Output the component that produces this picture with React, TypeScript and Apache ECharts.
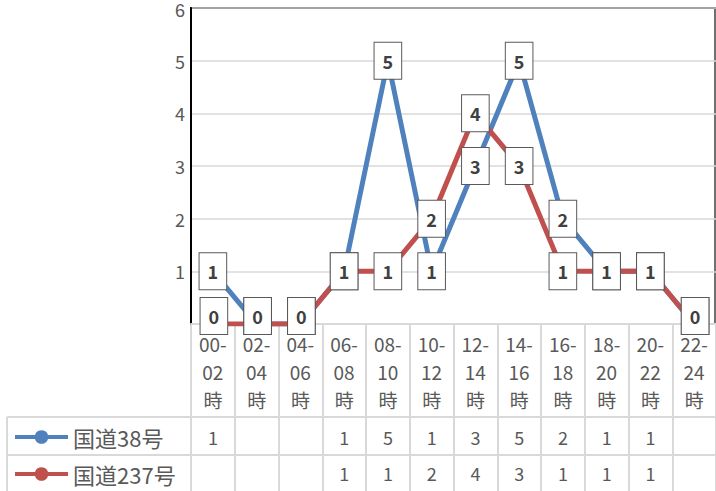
import React, { useEffect, useRef } from 'react';
import * as echarts from 'echarts';

const categories = ['00-02時', '02-04時', '04-06時', '06-08時', '08-10時', '10-12時', '12-14時', '14-16時', '16-18時', '18-20時', '20-22時', '22-24時'];
const route38 = [1, 0, 0, 1, 5, 1, 3, 5, 2, 1, 1, 0];
const route237 = [0, 0, 0, 1, 1, 2, 4, 3, 1, 1, 1, 0];
const seriesNames = ['国道38号', '国道237号'];
const seriesColors = ['#4F81BD', '#C0504D'];
const yMin = 0;
const yMax = 6;
const yInterval = 1;

const FONT = '"Noto Sans CJK JP", "Noto Sans", sans-serif';
const GRAY_TEXT = '#595959';
const TABLE_LINE = '#d9d9d9';

function makeSeries(name: string, values: number[], color: string) {
  return {
    name,
    type: 'line',
    xAxisIndex: 0,
    yAxisIndex: 0,
    data: values.map((v) => (v === 0 ? { value: v, label: { offset: [1, -8] } } : v)),
    symbol: 'circle',
    symbolSize: 9,
    showSymbol: true,
    lineStyle: { color, width: 5 },
    itemStyle: { color },
    emphasis: { disabled: true },
    label: {
      show: true,
      position: 'inside',
      fontFamily: FONT,
      fontSize: 18,
      fontWeight: 'bold',
      color: '#404040',
      backgroundColor: '#ffffff',
      borderColor: '#595959',
      borderWidth: 1,
      padding: [9, 8],
      lineHeight: 18,
    },
  };
}

function tableAxis(values: number[], offset: number) {
  return {
    type: 'category',
    gridIndex: 0,
    position: 'bottom',
    offset,
    data: categories,
    axisLine: { show: false },
    axisTick: { show: false },
    splitLine: { show: false },
    axisLabel: {
      interval: 0,
      margin: 0,
      verticalAlign: 'middle',
      fontFamily: FONT,
      fontSize: 18,
      color: GRAY_TEXT,
      formatter: (_v: string, i: number) => (values[i] ? String(values[i]) : ''),
    },
  };
}

export default function App() {
  const ref = useRef<HTMLDivElement>(null);
  useEffect(() => {
    if (!ref.current) return;
    const chart = echarts.init(ref.current, undefined, { renderer: 'svg' });
    const option: any = {
      animation: false,
      textStyle: { fontFamily: FONT },
      grid: [
        { left: 191, right: 0, top: 8, height: 316, outerBoundsMode: 'none', containLabel: false },
        { left: 191, right: 0, top: 324, height: 167, outerBoundsMode: 'none', containLabel: false },
      ],
      legend: {
        orient: 'vertical',
        left: 13,
        top: 426,
        padding: 0,
        itemWidth: 53,
        itemHeight: 17,
        itemGap: 15,
        data: seriesNames,
        selectedMode: false,
        lineStyle: { width: 4 },
        textStyle: { fontFamily: FONT, fontSize: 22, color: GRAY_TEXT, lineHeight: 22 },
      },
      xAxis: [
        {
          type: 'category',
          gridIndex: 0,
          data: categories,
          boundaryGap: true,
          axisLine: { show: true, lineStyle: { color: TABLE_LINE, width: 2 } },
          axisTick: { show: false },
          splitLine: { show: false },
          axisLabel: {
            interval: 0,
            margin: 5,
            fontFamily: FONT,
            fontSize: 19,
            lineHeight: 28,
            color: GRAY_TEXT,
            formatter: (v: string) => v.slice(0, 3) + '\n' + v.slice(3, 5) + '\n' + v.slice(5),
          },
        },
        {
          type: 'category',
          gridIndex: 1,
          data: categories,
          boundaryGap: true,
          axisLine: { show: false },
          axisTick: { show: false },
          axisLabel: { show: false },
          splitLine: { show: true, interval: 0, lineStyle: { color: TABLE_LINE, width: 2 } },
        },
        tableAxis(route38, 113),
        tableAxis(route237, 149),
      ],
      yAxis: [
        {
          type: 'value',
          gridIndex: 0,
          min: yMin,
          max: yMax,
          interval: yInterval,
          axisLine: { show: true, lineStyle: { color: '#000000', width: 2 } },
          axisTick: { show: false },
          splitLine: { show: true, lineStyle: { color: TABLE_LINE, width: 1.5 } },
          axisLabel: {
            margin: 6,
            fontFamily: FONT,
            fontSize: 18,
            color: GRAY_TEXT,
            formatter: (v: number) => (v === 0 ? '' : v === yMax ? `{top|${v}}` : String(v)),
            rich: {
              top: {
                fontFamily: '"Liberation Sans", sans-serif',
                fontSize: 18,
                lineHeight: 18,
                color: GRAY_TEXT,
                padding: [6, 0, 0, 0],
              },
            },
          },
        },
        {
          type: 'value',
          gridIndex: 1,
          show: false,
          splitLine: { show: false },
        },
      ],
      graphic: [
        { type: 'line', shape: { x1: 190, y1: 8, x2: 716, y2: 8 }, style: { stroke: '#000000', lineWidth: 2 } },
        { type: 'line', shape: { x1: 715, y1: 8, x2: 715, y2: 324 }, style: { stroke: '#404040', lineWidth: 1.5 } },
        { type: 'line', shape: { x1: 7, y1: 417, x2: 716, y2: 417 }, style: { stroke: TABLE_LINE, lineWidth: 2 } },
        { type: 'line', shape: { x1: 7, y1: 455, x2: 716, y2: 455 }, style: { stroke: TABLE_LINE, lineWidth: 2 } },
        { type: 'line', shape: { x1: 7, y1: 417, x2: 7, y2: 491 }, style: { stroke: TABLE_LINE, lineWidth: 2 } },
      ],
      series: [
        makeSeries(seriesNames[0], route38, seriesColors[0]),
        makeSeries(seriesNames[1], route237, seriesColors[1]),
      ],
    };
    chart.setOption(option);
    return () => chart.dispose();
  }, []);
  return (
    <div
      ref={ref}
      style={{ position: 'fixed', left: 0, top: 0, width: 716, height: 491, background: '#ffffff' }}
    />
  );
}
